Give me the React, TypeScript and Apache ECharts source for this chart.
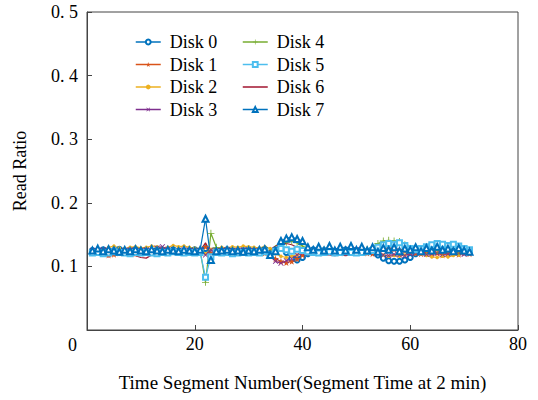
import React, { useEffect, useRef } from "react";
import * as echarts from "echarts";

const segments: number[] = Array.from({ length: 71 }, (_, i) => i + 1);

const disk0 = [
  0.125, 0.124, 0.126, 0.123, 0.125, 0.127, 0.124, 0.125, 0.126, 0.124,
  0.125, 0.123, 0.126, 0.125, 0.124, 0.126, 0.125, 0.124, 0.125, 0.126,
  0.124, 0.128, 0.118, 0.125, 0.124, 0.126, 0.125, 0.124, 0.125, 0.126,
  0.124, 0.125, 0.127, 0.120, 0.126, 0.130, 0.122, 0.112, 0.110, 0.114,
  0.120, 0.126, 0.124, 0.125, 0.126, 0.124, 0.125, 0.126, 0.124, 0.125,
  0.126, 0.124, 0.125, 0.118, 0.113, 0.109, 0.108, 0.108, 0.110, 0.114,
  0.120, 0.124, 0.126, 0.125, 0.124, 0.126, 0.125, 0.124, 0.126, 0.123, 0.124,
];
const disk1 = [
  0.122, 0.123, 0.121, 0.118, 0.119, 0.121, 0.123, 0.122, 0.120, 0.121,
  0.122, 0.121, 0.123, 0.122, 0.121, 0.123, 0.122, 0.124, 0.123, 0.122,
  0.123, 0.131, 0.121, 0.122, 0.123, 0.122, 0.121, 0.123, 0.124, 0.122,
  0.123, 0.122, 0.121, 0.118, 0.112, 0.108, 0.106, 0.108, 0.112, 0.118,
  0.122, 0.123, 0.121, 0.122, 0.123, 0.122, 0.121, 0.123, 0.122, 0.123,
  0.122, 0.121, 0.120, 0.126, 0.127, 0.128, 0.127, 0.126, 0.125, 0.122,
  0.121, 0.120, 0.122, 0.119, 0.121, 0.118, 0.120, 0.122, 0.119, 0.121, 0.120,
];
const disk2 = [
  0.126, 0.128, 0.127, 0.130, 0.132, 0.129, 0.128, 0.130, 0.131, 0.129,
  0.130, 0.132, 0.131, 0.129, 0.130, 0.133, 0.131, 0.132, 0.130, 0.129,
  0.128, 0.120, 0.127, 0.128, 0.130, 0.129, 0.131, 0.130, 0.132, 0.131,
  0.130, 0.129, 0.131, 0.128, 0.120, 0.116, 0.114, 0.116, 0.118, 0.122,
  0.124, 0.126, 0.125, 0.127, 0.126, 0.125, 0.127, 0.126, 0.125, 0.126,
  0.127, 0.125, 0.124, 0.122, 0.118, 0.116, 0.117, 0.116, 0.118, 0.122,
  0.124, 0.120, 0.117, 0.115, 0.114, 0.116, 0.115, 0.117, 0.118, 0.121, 0.122,
];
const disk3 = [
  0.125, 0.124, 0.126, 0.125, 0.124, 0.123, 0.125, 0.126, 0.124, 0.125,
  0.126, 0.124, 0.129, 0.131, 0.127, 0.125, 0.124, 0.126, 0.125, 0.124,
  0.125, 0.118, 0.126, 0.124, 0.125, 0.126, 0.124, 0.125, 0.126, 0.124,
  0.125, 0.124, 0.122, 0.116, 0.108, 0.105, 0.109, 0.112, 0.118, 0.121,
  0.124, 0.125, 0.124, 0.123, 0.125, 0.124, 0.123, 0.125, 0.124, 0.126,
  0.125, 0.124, 0.122, 0.120, 0.118, 0.117, 0.119, 0.118, 0.117, 0.120,
  0.122, 0.121, 0.119, 0.120, 0.121, 0.119, 0.120, 0.122, 0.121, 0.119, 0.121,
];
const disk4 = [
  0.124, 0.125, 0.123, 0.124, 0.126, 0.124, 0.125, 0.123, 0.124, 0.125,
  0.124, 0.126, 0.125, 0.124, 0.123, 0.125, 0.124, 0.126, 0.125, 0.124,
  0.125, 0.075, 0.152, 0.130, 0.126, 0.124, 0.125, 0.126, 0.124, 0.125,
  0.124, 0.126, 0.125, 0.122, 0.128, 0.134, 0.138, 0.140, 0.137, 0.132,
  0.127, 0.125, 0.124, 0.126, 0.125, 0.124, 0.126, 0.125, 0.124, 0.126,
  0.125, 0.127, 0.130, 0.136, 0.140, 0.141, 0.140, 0.139, 0.134, 0.128,
  0.126, 0.124, 0.125, 0.127, 0.125, 0.124, 0.126, 0.125, 0.123, 0.125, 0.124,
];
const disk5 = [
  0.121, 0.122, 0.120, 0.121, 0.123, 0.122, 0.121, 0.120, 0.122, 0.121,
  0.122, 0.121, 0.120, 0.122, 0.121, 0.123, 0.122, 0.121, 0.122, 0.121,
  0.122, 0.083, 0.115, 0.122, 0.121, 0.122, 0.120, 0.121, 0.122, 0.121,
  0.122, 0.121, 0.123, 0.118, 0.124, 0.128, 0.126, 0.124, 0.127, 0.125,
  0.123, 0.122, 0.121, 0.122, 0.123, 0.121, 0.122, 0.123, 0.122, 0.121,
  0.122, 0.123, 0.125, 0.130, 0.134, 0.136, 0.135, 0.137, 0.133, 0.128,
  0.126, 0.128, 0.131, 0.134, 0.136, 0.135, 0.133, 0.135, 0.132, 0.128, 0.126,
];
const disk6 = [
  0.124, 0.123, 0.120, 0.115, 0.119, 0.122, 0.123, 0.121, 0.117, 0.114,
  0.113, 0.118, 0.122, 0.123, 0.124, 0.123, 0.124, 0.123, 0.124, 0.123,
  0.125, 0.137, 0.120, 0.123, 0.124, 0.123, 0.124, 0.123, 0.124, 0.123,
  0.124, 0.123, 0.119, 0.126, 0.132, 0.135, 0.136, 0.134, 0.130, 0.125,
  0.122, 0.120, 0.119, 0.118, 0.118, 0.117, 0.118, 0.117, 0.118, 0.120,
  0.124, 0.128, 0.128, 0.127, 0.128, 0.129, 0.128, 0.127, 0.126, 0.123,
  0.121, 0.125, 0.122, 0.128, 0.120, 0.127, 0.123, 0.129, 0.121, 0.130, 0.122,
];
const disk7 = [
  0.125, 0.128, 0.124, 0.127, 0.125, 0.123, 0.126, 0.124, 0.127, 0.125,
  0.124, 0.127, 0.125, 0.124, 0.126, 0.125, 0.124, 0.126, 0.125, 0.124,
  0.126, 0.175, 0.110, 0.124, 0.125, 0.126, 0.124, 0.125, 0.123, 0.125,
  0.124, 0.126, 0.127, 0.118, 0.124, 0.140, 0.144, 0.146, 0.143, 0.140,
  0.130, 0.126, 0.131, 0.125, 0.132, 0.125, 0.131, 0.125, 0.132, 0.126,
  0.131, 0.125, 0.130, 0.123, 0.129, 0.126, 0.130, 0.124, 0.128, 0.126,
  0.130, 0.124, 0.129, 0.125, 0.131, 0.126, 0.128, 0.124, 0.129, 0.125, 0.123,
];

const diskNames = ["Disk 0", "Disk 1", "Disk 2", "Disk 3", "Disk 4", "Disk 5", "Disk 6", "Disk 7"];
const diskValues = [disk0, disk1, disk2, disk3, disk4, disk5, disk6, disk7];
const diskColors = ["#0072BD", "#D95319", "#EDB120", "#7E2F8E", "#77AC30", "#4DBEEE", "#A2142F", "#0072BD"];

const STAR = "path://M50,0 L61,35 L98,35 L68,57 L79,91 L50,70 L21,91 L32,57 L2,35 L39,35 Z";
const PLUS = "path://M4.4,0 H5.6 V4.4 H10 V5.6 H5.6 V10 H4.4 V5.6 H0 V4.4 H4.4 Z";

const symbolDefs: { symbol: string; size: number; rotate?: number; filled: boolean }[] = [
  { symbol: "emptyCircle", size: 5, filled: false },
  { symbol: STAR, size: 7, filled: true },
  { symbol: "circle", size: 3.5, filled: true },
  { symbol: PLUS, size: 7, rotate: 45, filled: true },
  { symbol: PLUS, size: 7, filled: true },
  { symbol: "emptyRect", size: 5, filled: false },
  { symbol: "none", size: 0, filled: true },
  { symbol: "emptyTriangle", size: 6, filled: false },
];

const FONT = "Liberation Serif, Times New Roman, serif";

export default function App() {
  const ref = useRef<HTMLDivElement>(null);
  useEffect(() => {
    if (!ref.current) return;
    const chart = echarts.init(ref.current, undefined, { renderer: "svg" });
    const series = diskNames.map((name, i) => {
      const s = symbolDefs[i];
      return {
        name,
        type: "line",
        data: segments.map((x, j) => [x, diskValues[i][j]]),
        symbol: s.symbol,
        symbolSize: s.size,
        symbolRotate: s.rotate || 0,
        showSymbol: s.symbol !== "none",
        lineStyle: { color: diskColors[i], width: 1.2 },
        itemStyle: { color: diskColors[i], borderColor: diskColors[i], borderWidth: s.filled ? 0 : 1 },
        emphasis: { disabled: true },
      };
    });
    const legendData = (names: string[]) =>
      names.map((n) => (n === "Disk 6" ? { name: n, itemStyle: { opacity: 0 } } : { name: n }));
    const legendCommon = {
      orient: "vertical",
      padding: 0,
      itemWidth: 25,
      itemHeight: 6,
      itemGap: 4.5,
      lineStyle: { width: 1.5 },
      textStyle: { fontFamily: FONT, fontSize: 18, color: "#000", lineHeight: 18, padding: [0, 0, 0, 4] },
      selectedMode: false,
    };
    chart.setOption({
      animation: false,
      backgroundColor: "#fff",
      textStyle: { fontFamily: FONT },
      grid: {
        left: 87,
        right: 20,
        top: 12,
        bottom: 70,
        show: true,
        borderColor: "#444",
        borderWidth: 1,
        containLabel: false,
        outerBoundsMode: "none",
      },
      legend: [
        { ...legendCommon, left: 135, top: 33, data: legendData(diskNames.slice(0, 4)) },
        { ...legendCommon, left: 242, top: 33, data: legendData(diskNames.slice(4, 8)) },
      ],
      xAxis: {
        type: "value",
        min: 0,
        max: 80,
        interval: 20,
        name: "Time Segment Number(Segment Time at 2 min)",
        nameLocation: "middle",
        nameGap: 43,
        nameTextStyle: { fontFamily: FONT, fontSize: 19, color: "#000" },
        axisLine: { show: true, lineStyle: { color: "#444", width: 1 } },
        axisTick: { show: true, inside: true, length: 5, lineStyle: { color: "#444" } },
        axisLabel: {
          fontFamily: FONT,
          fontSize: 18,
          color: "#000",
          margin: 5,
          formatter: (v: number) => (v === 0 ? "" : String(v)),
        },
        splitLine: { show: false },
      },
      yAxis: {
        type: "value",
        min: 0,
        max: 0.5,
        interval: 0.1,
        name: "Read Ratio",
        nameLocation: "middle",
        nameGap: 58,
        nameTextStyle: { fontFamily: FONT, fontSize: 18, color: "#000" },
        axisLine: { show: true, lineStyle: { color: "#444", width: 1 } },
        axisTick: { show: true, inside: true, length: 5, lineStyle: { color: "#444" } },
        axisLabel: {
          fontFamily: FONT,
          fontSize: 18,
          color: "#000",
          margin: 9,
          formatter: (v: number) => (v === 0 ? "" : v.toFixed(1).replace(".", ". ")),
        },
        splitLine: { show: false },
      },
      graphic: [
        {
          type: "text",
          left: 68,
          top: 336,
          style: { text: "0", fontFamily: FONT, fontSize: 18, fill: "#000" },
        },
      ],
      series,
    });
    return () => chart.dispose();
  }, []);
  return <div ref={ref} style={{ width: 538, height: 400, position: "absolute", left: 0, top: 0 }} />;
}
